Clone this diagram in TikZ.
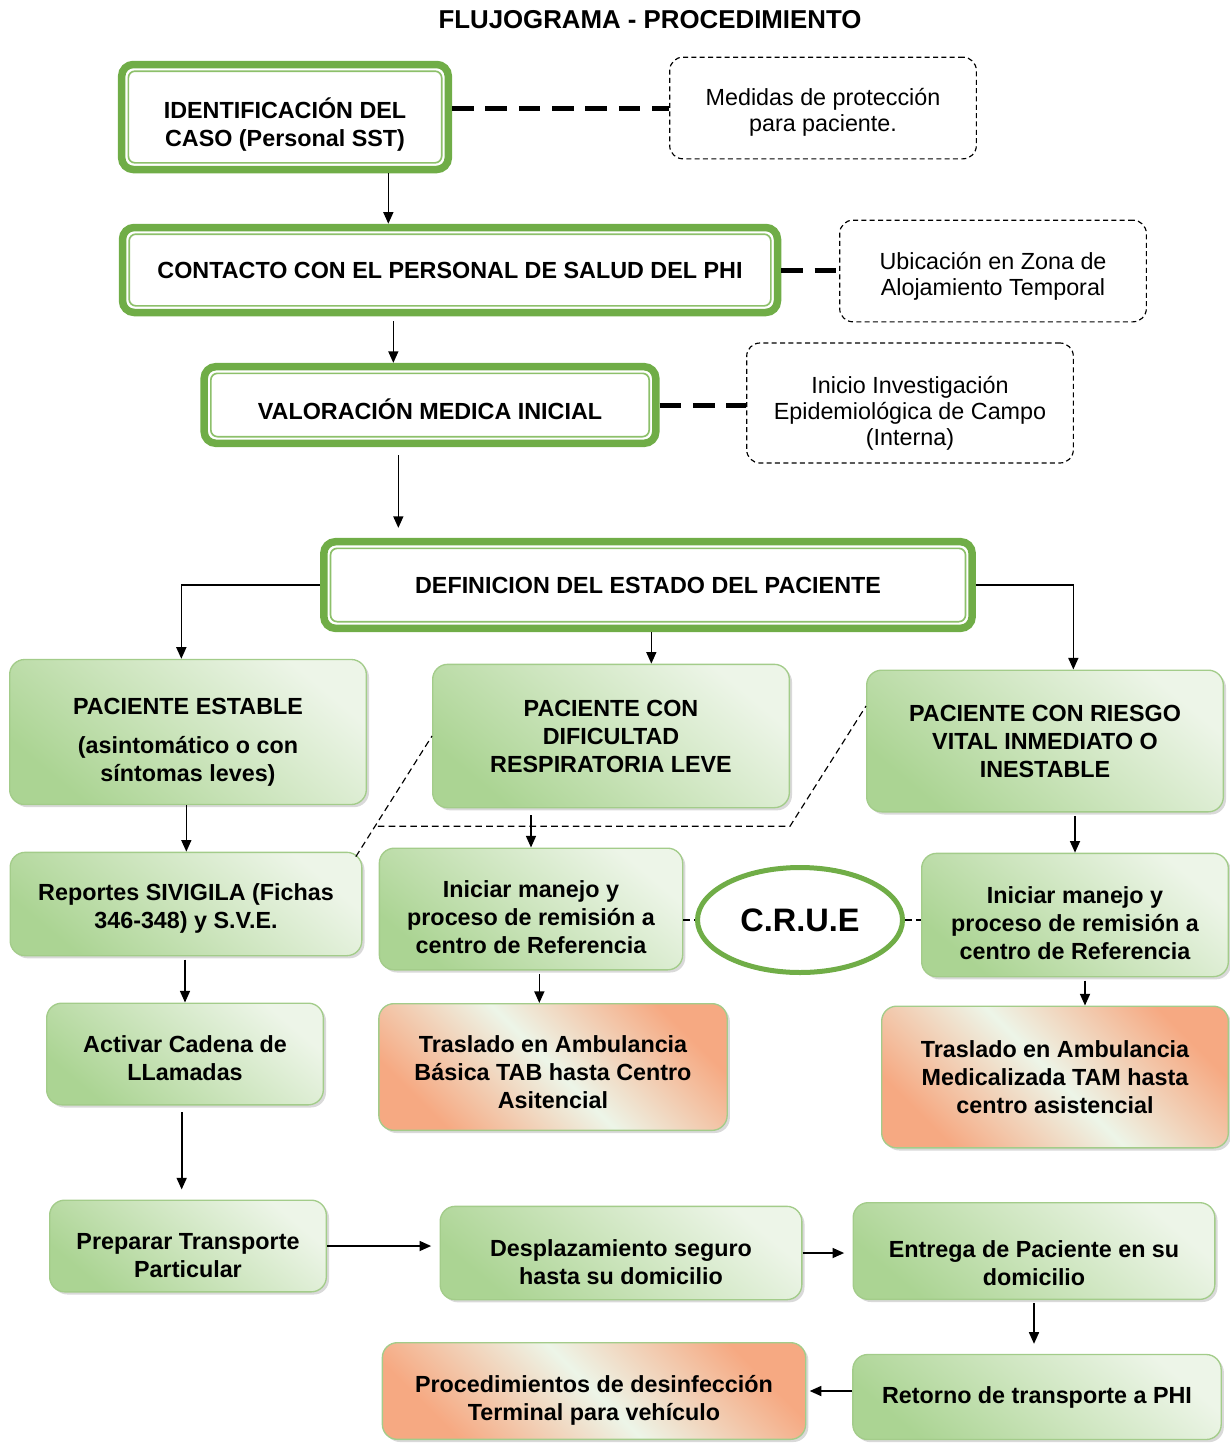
\documentclass[tikz,border=0pt]{standalone}
\usepackage{fontspec}
\setmainfont{Liberation Sans}
\usetikzlibrary{arrows.meta,positioning,shapes.geometric,shadows,calc}

\definecolor{marco}{HTML}{70AD47}
\definecolor{marcoclaro}{HTML}{8DC06A}
\definecolor{verdeA}{HTML}{ABD493}
\definecolor{verdeC}{HTML}{CDE5BE}
\definecolor{verdeB}{HTML}{EDF5E8}
\definecolor{bordeverde}{HTML}{A3CC8A}
\definecolor{naranja}{HTML}{F6A982}

% puntal invisible para bajar el texto dentro de la caja
\newcommand\alto[1]{\rule{0pt}{#1}}

\begin{document}
\begin{tikzpicture}[x=0.6pt, y=-0.6pt,
    every node/.style={font=\fontsize{14}{16.8}\selectfont},
    titulo/.style={draw=marco, line width=4.5pt, rounded corners=7pt, fill=white,
        align=center, inner sep=0pt, font=\fontsize{14}{16.8}\selectfont\bfseries,
        path picture={\draw[marcoclaro, line width=1pt, rounded corners=4pt]
            ([shift={(4pt,-4pt)}]path picture bounding box.north west) rectangle
            ([shift={(-4pt,4pt)}]path picture bounding box.south east);}},
    nota/.style={draw, line width=0.7pt, dash pattern=on 3pt off 2pt,
        rounded corners=8pt, align=center, inner sep=0pt,
        font=\fontsize{14}{15.6}\selectfont},
    caja/.style={draw=bordeverde, line width=0.8pt, rounded corners=9pt,
        align=center, font=\fontsize{14}{16.8}\selectfont\bfseries,
        top color=verdeB, bottom color=verdeA, middle color=verdeC, shading angle=-40,
        drop shadow={shadow xshift=1.6pt, shadow yshift=-1.6pt, opacity=0.3}},
    ambulancia/.style={caja, left color=naranja, right color=naranja,
        middle color=verdeB, shading angle=-45},
    flecha/.style={-{Triangle[length=7pt,width=6pt]}, line width=1pt},
    enlace/.style={line width=3pt, dash pattern=on 13pt off 7pt},
    punteada/.style={line width=0.7pt, dash pattern=on 4pt off 2.5pt}
]
\useasboundingbox (0,0) rectangle (1230,1445);

% encabezado
\node[font=\fontsize{15.5}{18}\selectfont\bfseries] (cabecera) at (650,20) {FLUJOGRAMA - PROCEDIMIENTO};

% etapas principales
\node[titulo, minimum width=196pt, minimum height=63pt] (identificacion) at (285,117)
    {\alto{21pt}IDENTIFICACIÓN DEL\\CASO (Personal SST)};
\node[titulo, minimum width=393pt, minimum height=51pt] (contacto) at (450,270)
    {CONTACTO CON EL PERSONAL DE SALUD DEL PHI};
\node[titulo, minimum width=271pt, minimum height=46pt] (valoracion) at (430,405)
    {\alto{17pt}VALORACIÓN MEDICA INICIAL};
\node[titulo, minimum width=389pt, minimum height=52pt] (definicion) at (648,585)
    {DEFINICION DEL ESTADO DEL PACIENTE};

% notas
\node[nota, minimum width=184pt, minimum height=61pt] (medidas) at (823,108)
    {\alto{15.6pt}Medidas de protección\\para paciente.};
\node[nota, minimum width=184pt, minimum height=61pt] (ubicacion) at (993,271)
    {\alto{16.5pt}Ubicación en Zona de\\Alojamiento Temporal};
\node[nota, minimum width=196pt, minimum height=72pt] (investigacion) at (910,403)
    {\alto{23pt}Inicio Investigación\\Epidemiológica de Campo\\(Interna)};

% estados del paciente
\node[caja, minimum width=214pt, minimum height=87pt] (estable) at (188,732)
    {\alto{22pt}PACIENTE ESTABLE\\[7pt](asintomático o con\\síntomas leves)};
\node[caja, minimum width=214pt, minimum height=86pt] (dificultad) at (611,736)
    {PACIENTE CON\\DIFICULTAD\\RESPIRATORIA LEVE};
\node[caja, minimum width=214pt, minimum height=85pt] (riesgo) at (1045,741)
    {PACIENTE CON RIESGO\\VITAL INMEDIATO O\\INESTABLE};

\node[caja, minimum width=211pt, minimum height=62pt] (reportes) at (186,904)
    {\alto{16pt}Reportes SIVIGILA (Fichas\\346-348) y S.V.E.};
\node[caja, minimum width=182pt, minimum height=73pt] (manejoleve) at (531,909)
    {\alto{20.5pt}Iniciar manejo y\\proceso de remisión a\\centro de Referencia};
\node[ellipse, draw=marco, line width=3pt, fill=white, inner sep=0pt,
    minimum width=123pt, minimum height=63pt,
    font=\fontsize{19.5}{22}\selectfont\bfseries] (crue) at (800,920) {C.R.U.E};
\node[caja, minimum width=184pt, minimum height=74pt] (manejograve) at (1075,915)
    {\alto{20pt}Iniciar manejo y\\proceso de remisión a\\centro de Referencia};

\node[caja, minimum width=166pt, minimum height=61pt] (cadena) at (185,1054)
    {\alto{15pt}Activar Cadena de\\LLamadas};
\node[ambulancia, minimum width=209pt, minimum height=76pt] (tab) at (553,1067)
    {\alto{16pt}Traslado en Ambulancia\\Básica TAB hasta Centro\\Asitencial};
\node[ambulancia, minimum width=208pt, minimum height=85pt] (tam) at (1055,1077)
    {Traslado en Ambulancia\\Medicalizada TAM hasta\\centro asistencial};

% retorno a domicilio
\node[caja, minimum width=166pt, minimum height=55pt] (transporte) at (188,1246)
    {\alto{21.6pt}Preparar Transporte\\Particular};
\node[caja, minimum width=217pt, minimum height=56pt] (desplazamiento) at (621,1253)
    {\alto{21.6pt}Desplazamiento seguro\\hasta su domicilio};
\node[caja, minimum width=217pt, minimum height=58pt] (entrega) at (1034,1251)
    {\alto{25pt}Entrega de Paciente en su\\domicilio};
\node[caja, minimum width=221pt, minimum height=51pt] (retorno) at (1037,1397)
    {Retorno de transporte a PHI};
\node[ambulancia, minimum width=254pt, minimum height=58pt] (desinfeccion) at (594,1391)
    {\alto{22pt}Procedimientos de desinfección\\Terminal para vehículo};

% enlaces con las notas
\draw[enlace] (identificacion.east |- medidas.west) -- (medidas.west);
\draw[enlace] (contacto.east) -- (contacto.east -| ubicacion.west);
\draw[enlace] (valoracion.east) -- (valoracion.east -| investigacion.west);

% flujo principal
\draw[flecha] ([xshift=62pt]identificacion.south) -- ([xshift=62pt]identificacion.south |- contacto.north);
\draw[flecha, shorten <=3pt] ([xshift=-34pt]contacto.south) -- ([xshift=-34pt]contacto.south |- valoracion.north);
\draw[flecha, shorten <=5pt, shorten >=6pt] ([xshift=-19pt]valoracion.south) -- ([xshift=-19pt]valoracion.south |- definicion.north);
\draw[flecha] (definicion.west) -| ([xshift=-4pt]estable.north);
\draw[flecha] ([xshift=2pt]definicion.south) -- ([xshift=2pt]definicion.south |- dificultad.north);
\draw[flecha] (definicion.east) -| ([xshift=17pt]riesgo.north);

\draw[flecha] ([xshift=-1pt]estable.south) -- ([xshift=-1pt]estable.south |- reportes.north);
\draw[flecha, shorten <=4pt] (dificultad.south -| manejoleve.north) -- (manejoleve.north);
\draw[flecha, shorten <=2pt] (riesgo.south -| manejograve.north) -- (manejograve.north);
\draw[flecha, shorten <=2pt] (reportes.south -| cadena.north) -- (cadena.north);
\draw[flecha, shorten <=2pt] ([xshift=5pt]manejoleve.south) -- ([xshift=5pt]manejoleve.south |- tab.north);
\draw[flecha, shorten <=2pt] ([xshift=6pt]manejograve.south) -- ([xshift=6pt]manejograve.south |- tam.north);
\draw[flecha, shorten <=4pt, shorten >=6pt] ([xshift=-2pt]cadena.south) -- ([xshift=-2pt]cadena.south |- transporte.north);
\draw[flecha, shorten >=5pt] (transporte.east) -- (transporte.east -| desplazamiento.west);
\draw[flecha, shorten >=5pt] (desplazamiento.east) -- (desplazamiento.east -| entrega.west);
\draw[flecha, shorten <=2pt, shorten >=6pt] (entrega.south) -- (entrega.south |- retorno.north);
\draw[flecha, shorten >=2pt] (retorno.west |- desinfeccion.east) -- (desinfeccion.east);

% lineas punteadas entre estados
\coordinate (cruce) at ($(reportes.north east)!0.22!(dificultad.west)$);
\coordinate (esquina) at (dificultad.south east |- cruce);
\draw[punteada] ([xshift=-4pt,yshift=-3pt]reportes.north east) -- (dificultad.west);
\draw[punteada] (cruce) -- (esquina) -- ([yshift=21pt]riesgo.west);
\draw[punteada] (crue.west -| manejoleve.east) -- (crue.west);
\draw[punteada] (crue.east) -- (crue.east -| manejograve.west);
\end{tikzpicture}
\end{document}
